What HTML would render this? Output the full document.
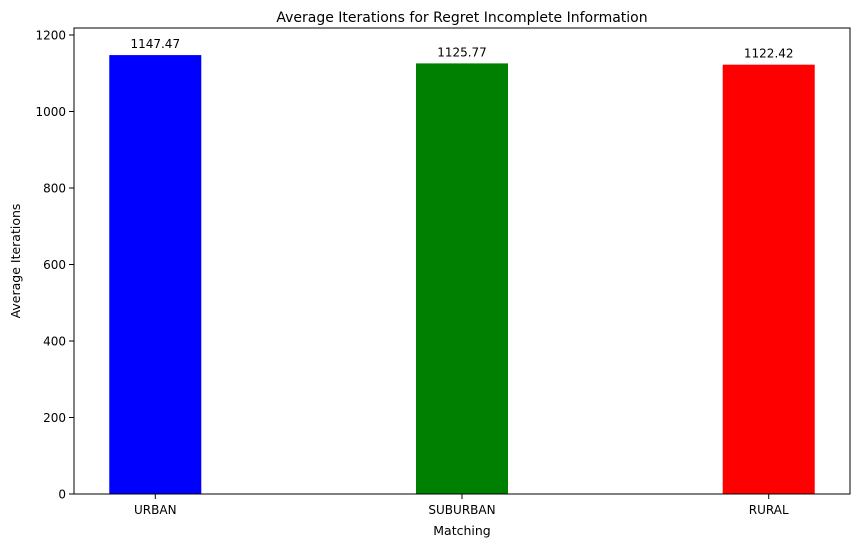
<!DOCTYPE html>
<html><head><meta charset="utf-8"><style>
body{margin:0;background:#fff;font-family:"Liberation Sans","DejaVu Sans",sans-serif}
svg text{font-family:"DejaVu Sans","Liberation Sans",sans-serif;fill:#000}
</style></head><body>
<svg id="chart" width="859" height="547" xmlns="http://www.w3.org/2000/svg"></svg>
<script>
const categories = ["URBAN", "SUBURBAN", "RURAL"];
const values = [1147.47, 1125.77, 1122.42];
const colors = ["#0000ff", "#008000", "#ff0000"];
const yTicks = [0, 200, 400, 600, 800, 1000, 1200];

const L = 74, R = 850, T = 28, B = 494;
const svg = document.getElementById('chart');
const NS = 'http://www.w3.org/2000/svg';
const xMin = -0.265, xMax = categories.length - 1 + 0.265;
const yMax = (B - T) / 0.3825;
function xs(i){ return L + (i - xMin) / (xMax - xMin) * (R - L); }
function ys(v){ return B - v / yMax * (B - T); }
function mk(tag, attrs, text){
  const e = document.createElementNS(NS, tag);
  for (const k in attrs) e.setAttribute(k, attrs[k]);
  if (text !== undefined) e.textContent = text;
  svg.appendChild(e);
  return e;
}
const bw = 0.3 * (xs(1) - xs(0));
categories.forEach((c, i) => {
  const x = xs(i) - bw / 2, y = ys(values[i]);
  const r = mk('rect', {x: x, y: y, width: bw, height: B - y, fill: colors[i]});
  
  
  const t = mk('text', {x: xs(i), y: y - 7, 'font-size': 12, 'text-anchor': 'middle'}, values[i].toFixed(2));
  
  
  const tk = mk('line', {x1: xs(i), x2: xs(i), y1: B, y2: B + 5, stroke: '#000', 'stroke-width': 1});
  
  
  const tl = mk('text', {x: xs(i), y: B + 20, 'font-size': 12, 'text-anchor': 'middle'}, c);
  
  
});
yTicks.forEach(v => {
  const y = ys(v);
  const tk = mk('line', {x1: L - 5, x2: L, y1: y, y2: y, stroke: '#000', 'stroke-width': 1});
  
  
  const tl = mk('text', {x: L - 8, y: y + 4.5, 'font-size': 12, 'text-anchor': 'end'}, v);
  
  
});
const frame = mk('rect', {x: L, y: T, width: R - L, height: B - T, fill: 'none', stroke: '#000', 'stroke-width': 1});


const title = mk('text', {x: (L + R) / 2, y: 22, 'font-size': 14, 'text-anchor': 'middle'}, 'Average Iterations for Regret Incomplete Information');


const xt = mk('text', {x: (L + R) / 2, y: 535, 'font-size': 12.5, 'text-anchor': 'middle'}, 'Matching');


const yt = mk('text', {x: 20, y: (T + B) / 2, 'font-size': 12.5, 'text-anchor': 'middle', transform: 'rotate(-90 20 ' + (T + B) / 2 + ')'}, 'Average Iterations');


</script>
</body></html>
